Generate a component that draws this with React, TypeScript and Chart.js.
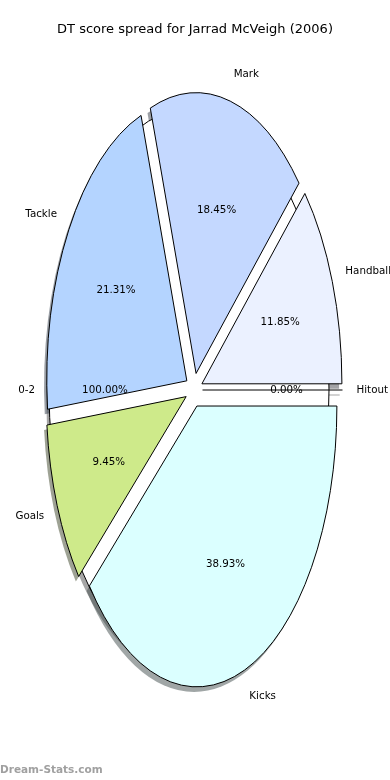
import React, { useEffect, useRef } from 'react';
import { Chart, registerables } from 'chart.js';

Chart.register(...registerables);

const TITLE = 'DT score spread for Jarrad McVeigh (2006)';
const WATERMARK = 'Dream-Stats.com';

// Wedges, listed clockwise starting from 3 o'clock
const categories = ['Kicks', 'Goals', 'Tackle', 'Mark', 'Handball', 'Hitout'];
const shares = [38.93, 9.45, 21.31, 18.45, 11.85, 0];
const sliceColors = ['#DBFFFF', '#CEEA8A', '#B4D4FF', '#C4D8FF', '#EBF1FF', '#FFFFFF'];

// Background (full) wedge
const baseCategories = ['0-2'];
const baseShares = [100];
const baseColors = ['#FFFFFF'];

const NAMES = [categories, baseCategories];
const VALUES = [shares, baseShares];

const R = 140;
const YS = 2.006;
const EXPLODES = [8.5, 5];
const SHX = -2.8;
const SHY = 2.5;
const LABEL_D = 1.1;
const PCT_D = 0.6;

function shadowOf(hex: string): string {
  const r = parseInt(hex.slice(1, 3), 16);
  const g = parseInt(hex.slice(3, 5), 16);
  const b = parseInt(hex.slice(5, 7), 16);
  return `rgba(${Math.round(r * 0.3)},${Math.round(g * 0.3)},${Math.round(b * 0.3)},0.5)`;
}

function centerOf(chart: any) {
  const a = chart.chartArea;
  return { cx: (a.left + a.right) / 2, cy: (a.top + a.bottom) / 2 };
}

const piePlugin: any = {
  id: 'mplPie',
  afterDatasetsUpdate(chart: any) {
    chart.data.datasets.forEach((_: any, di: number) => {
      const e = EXPLODES[di];
      chart.getDatasetMeta(di).data.forEach((arc: any) => {
        const mid = (arc.startAngle + arc.endAngle) / 2;
        arc.outerRadius = R;
        arc.innerRadius = 0;
        arc.x += Math.cos(mid) * e;
        arc.y += Math.sin(mid) * e;
      });
    });
  },
  beforeDatasetsDraw(chart: any) {
    const ctx = chart.ctx;
    const { cx, cy } = centerOf(chart);
    ctx.save();
    ctx.translate(cx, cy);
    ctx.scale(1, YS);
    ctx.translate(-cx, -cy);
    const dpr = chart.currentDevicePixelRatio || 1;
    const orig = CanvasRenderingContext2D.prototype.stroke;
    (ctx as any).stroke = function (...a: any[]) {
      this.save();
      this.setTransform(dpr, 0, 0, dpr, 0, 0);
      orig.apply(this, a as any);
      this.restore();
    };
    for (const di of [1, 0]) {
      const ds = chart.data.datasets[di];
      chart.getDatasetMeta(di).data.forEach((arc: any, i: number) => {
        const col = shadowOf(ds.backgroundColor[i]);
        ctx.save();
        ctx.translate(SHX, SHY);
        ctx.beginPath();
        if (arc.circumference > 0) {
          ctx.moveTo(arc.x, arc.y);
          ctx.arc(arc.x, arc.y, R, arc.startAngle, arc.endAngle);
          ctx.closePath();
          ctx.fillStyle = col;
          ctx.fill();
        } else {
          ctx.moveTo(arc.x, arc.y);
          ctx.lineTo(arc.x + Math.cos(arc.startAngle) * R, arc.y + Math.sin(arc.startAngle) * R);
          ctx.strokeStyle = col;
          ctx.lineWidth = 1;
          ctx.stroke();
        }
        ctx.restore();
      });
    }
  },
  afterDatasetDraw(chart: any, args: any) {
    if (args.index !== 1) return;
    const ctx = chart.ctx;
    const arc: any = chart.getDatasetMeta(1).data[0];
    ctx.save();
    ctx.beginPath();
    ctx.arc(arc.x, arc.y, R, 0, Math.PI * 2);
    ctx.lineWidth = 1;
    ctx.strokeStyle = '#000';
    ctx.stroke();
    ctx.restore();
  },
  afterDatasetsDraw(chart: any) {
    const ctx = chart.ctx;
    const { cx, cy } = centerOf(chart);
    chart.getDatasetMeta(0).data.forEach((arc: any) => {
      if (arc.circumference > 0) return;
      ctx.save();
      ctx.beginPath();
      ctx.moveTo(arc.x, arc.y);
      ctx.lineTo(arc.x + Math.cos(arc.startAngle) * R, arc.y + Math.sin(arc.startAngle) * R);
      ctx.lineWidth = 1;
      ctx.strokeStyle = '#000';
      ctx.stroke();
      ctx.restore();
    });
    ctx.restore();
    delete (ctx as any).stroke;

    ctx.save();
    ctx.fillStyle = '#000';
    ctx.textBaseline = 'middle';
    ctx.font = '10.3px "DejaVu Sans"';
    for (const di of [0, 1]) {
      const names = NAMES[di];
      const vals = VALUES[di];
      chart.getDatasetMeta(di).data.forEach((arc: any, i: number) => {
        const mid = (arc.startAngle + arc.endAngle) / 2;
        const c = Math.cos(mid);
        const s = Math.sin(mid);
        const lx = arc.x + LABEL_D * R * c;
        const ly = cy + (arc.y + LABEL_D * R * s - cy) * YS;
        ctx.textAlign = lx - cx > 0 ? 'left' : 'right';
        ctx.fillText(names[i], lx, ly);
        const px = arc.x + PCT_D * R * c;
        const py = cy + (arc.y + PCT_D * R * s - cy) * YS;
        ctx.textAlign = 'center';
        ctx.fillText(vals[i].toFixed(2) + '%', px, py);
      });
    }
    ctx.restore();
  },
  afterDraw(chart: any) {
    const ctx = chart.ctx;
    ctx.save();
    ctx.fillStyle = '#000';
    ctx.textAlign = 'center';
    ctx.textBaseline = 'middle';
    ctx.font = '13px "DejaVu Sans"';
    ctx.fillText(TITLE, 195, 30);
    ctx.textAlign = 'left';
    ctx.fillStyle = '#a0a0a0';
    ctx.font = 'bold 10.5px "DejaVu Sans"';
    ctx.fillText(WATERMARK, 0, 770);
    ctx.restore();
  },
};

export default function App() {
  const ref = useRef<HTMLCanvasElement>(null);
  useEffect(() => {
    const canvas = ref.current!;
    const chart = new Chart(canvas, {
      type: 'pie',
      data: {
        labels: categories,
        datasets: [
          {
            label: 'score',
            data: shares,
            backgroundColor: sliceColors,
            borderColor: '#000',
            borderWidth: 1,
            clip: false,
          } as any,
          {
            label: 'base',
            data: baseShares,
            backgroundColor: baseColors,
            borderWidth: 0,
            clip: false,
          } as any,
        ],
      },
      options: {
        responsive: false,
        maintainAspectRatio: false,
        animation: false,
        rotation: 90,
        radius: R,
        events: [],
        layout: { padding: { left: 0, right: 2, top: 0, bottom: 0 } },
        plugins: {
          legend: { display: false },
          tooltip: { enabled: false },
          title: { display: false },
        },
      } as any,
      plugins: [piePlugin],
    });
    return () => chart.destroy();
  }, []);
  return (
    <div style={{ position: 'absolute', left: 0, top: 0, width: 390, height: 780, background: '#fff' }}>
      <canvas ref={ref} width={390} height={780} style={{ display: 'block', width: 390, height: 780 }} />
    </div>
  );
}
